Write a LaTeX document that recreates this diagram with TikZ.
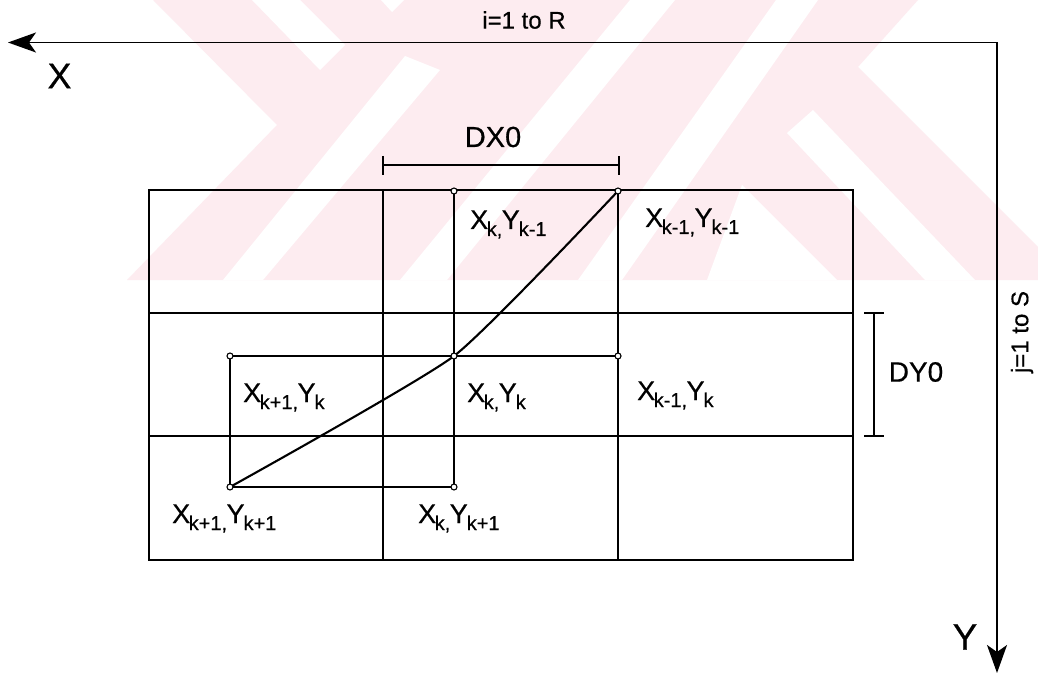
\documentclass[tikz,border=0pt]{standalone}
\usepackage{fontspec}
\setmainfont{Liberation Sans}[FakeBold=0.5]
\usetikzlibrary{arrows.meta}
\definecolor{wmpink}{RGB}{253,236,240}
\newcommand{\subsz}{\fontsize{20}{20}\selectfont}
\newcommand{\XY}[2]{X\kern-1.5pt\raisebox{-7pt}{\subsz #1,}\kern-0.5pt Y\kern-1pt\raisebox{-7pt}{\subsz #2}}
\tikzset{
  gridline/.style={line width=1.9pt, line cap=round},
  thinline/.style={line width=1.5pt},
  curveline/.style={line width=2.1pt},
  axisline/.style={line width=1.7pt, -{Stealth[length=28pt, width=20pt, inset=7pt]}},
  dimline/.style={line width=1.5pt},
  ptdot/.style={line width=1.1pt, fill=white},
  lab/.style={inner sep=0pt, anchor=base west, font=\fontsize{27}{30}\selectfont},
  big/.style={inner sep=0pt}
}
\begin{document}
\begin{tikzpicture}[x=1pt, y=-1pt]
\useasboundingbox (0,0) rectangle (1038,676);
\fill[white] (0,0) rectangle (1038,676);
% watermark
\fill[wmpink] (153,0) -- (918,0) -- (858,67) -- (1038,247) -- (1038,280) -- (127,280) -- (277,125) -- cycle;
\fill[white] (252,0) -- (300,0) -- (345,45) -- (320,70) -- cycle;
\fill[white] (381,0) -- (404,0) -- (392,12) -- cycle;
\fill[white] (630,0) -- (675,0) -- (447,280) -- (400,280) -- cycle;
\fill[white] (223,280) -- (263,280) -- (440,70) -- (405,56) -- cycle;
\fill[white] (776,0) -- (818,0) -- (622,280) -- (578,280) -- cycle;
\fill[white] (742,185) -- (837,280) -- (707,280) -- cycle;
\fill[white] (787,133) -- (813,110) -- (975,280) -- (925,280) -- cycle;
% axes
\coordinate (corner) at (997,42.5);
\coordinate (xtip) at (8,42.5);
\coordinate (ytip) at (997,673);
\draw[axisline] (corner) -- (xtip);
\draw[axisline] (corner) -- (ytip);
\node[big, font=\fontsize{24}{26}\selectfont] (ilab) at (524,20) {i=1 to R};
\node[big, font=\fontsize{24}{26}\selectfont, rotate=90] (jlab) at (1022,332) {j=1 to S};
\node[big, font=\fontsize{36}{38}\selectfont] (xlab) at (59.5,76) {X};
\node[big, font=\fontsize{37}{39}\selectfont] (ylab) at (965,637) {Y};
% grid
\draw[gridline] (149,190) rectangle (853,560);
\draw[gridline] (383,190) -- (383,560);
\draw[gridline] (618,190) -- (618,560);
\draw[gridline] (149,313) -- (853,313);
\draw[gridline] (149,436) -- (853,436);
% dimensions
\coordinate (dxl) at (383,165);
\coordinate (dxr) at (619,165);
\coordinate (dxlt) at (383,156);
\coordinate (dxlb) at (383,175);
\coordinate (dxrt) at (619,156);
\coordinate (dxrb) at (619,175);
\draw[dimline] (dxl) -- (dxr);
\draw[dimline] (dxlt) -- (dxlb);
\draw[dimline] (dxrt) -- (dxrb);
\node[big, font=\fontsize{29}{31}\selectfont] (dxlab) at (493,137) {DX0};
\coordinate (dyt) at (874,313);
\coordinate (dyb) at (874,436);
\coordinate (dytl) at (864,313);
\coordinate (dytr) at (884,313);
\coordinate (dybl) at (864,436);
\coordinate (dybr) at (884,436);
\draw[dimline] (dyt) -- (dyb);
\draw[dimline] (dytl) -- (dytr);
\draw[dimline] (dybl) -- (dybr);
\node[big, font=\fontsize{28}{30}\selectfont] (dylab) at (916,372) {DY0};
% points
\coordinate (pA) at (454,191);
\coordinate (pB) at (618,191);
\coordinate (pC) at (454,356);
\coordinate (pD) at (618,356);
\coordinate (pE) at (230,356);
\coordinate (pF) at (230,487);
\coordinate (pG) at (454,487);
\draw[thinline] (pA) -- (pG);
\draw[thinline] (pE) -- (pD);
\draw[thinline] (pE) -- (pF) -- (pG);
\draw[curveline] plot[smooth, tension=0.3] coordinates {(pB) (pC) (pF)};
\foreach \p in {pA,pB,pC,pD,pE,pF,pG} \draw[ptdot] (\p) circle (3);
% labels
\node[lab] (lA) at (470,229) {\XY{k}{k-1}};
\node[lab] (lB) at (645,227) {\XY{k-1}{k-1}};
\node[lab] (lC) at (467,402) {\XY{k}{k}};
\node[lab] (lD) at (637,400) {\XY{k-1}{k}};
\node[lab] (lE) at (243,402) {\XY{k+1}{k}};
\node[lab] (lF) at (172,523) {\XY{k+1}{k+1}};
\node[lab] (lG) at (418,523) {\XY{k}{k+1}};
\end{tikzpicture}
\end{document}
